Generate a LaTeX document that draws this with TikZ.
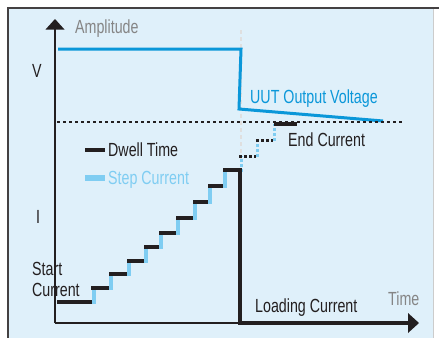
\documentclass[tikz,border=0pt]{standalone}
\usepackage{fontspec}
\setmainfont{Liberation Sans}[FakeStretch=0.75]
\definecolor{bgblue}{HTML}{DFF0FA}
\definecolor{vblue}{HTML}{0A97D9}
\definecolor{sblue}{HTML}{7FCDF2}
\definecolor{txt}{HTML}{231F20}
\definecolor{gtxt}{HTML}{858585}
\begin{document}
\begin{tikzpicture}[x=1pt,y=-1pt,
  lbl/.style={inner sep=0pt, anchor=base west, text=txt, font=\fontsize{19}{21}\selectfont},
  blk/.style={draw=txt, line width=3.2pt},
  stp/.style={draw=sblue, line width=4pt},
  blkdot/.style={draw=txt, line width=3pt, dash pattern=on 3pt off 2pt},
  stpdot/.style={draw=sblue, line width=3pt, dash pattern=on 3pt off 2pt},
  axis/.style={draw=txt, line width=1.3pt}]
\path[use as bounding box, fill=white] (0,0) rectangle (439,338);
\fill[bgblue] (8,8) rectangle (433,338);
\draw[gray!40, line width=0.6pt] (433,8) -- (433,338);
\draw[txt!85, line width=1.8pt] (439,8) -- (8,8) -- (8,338);

% gray dashed guide
\draw[gray!25, line width=1.3pt, dash pattern=on 4pt off 3pt] (241,30) -- (241,160);

% voltage
\draw[vblue, line width=3pt, line join=miter] (58,49) -- (241,49) -- (239,109) -- (383,121);

% end level dashed line
\draw[txt, line width=1.2pt, dash pattern=on 3pt off 3pt] (57,122) -- (403,122);

% axes
\draw[axis] (55,323) -- (55,29);
\fill[txt] (55,19) -- (45.5,29.5) -- (64.5,29.5) -- cycle;
\draw[axis] (55,323) -- (408,323);
\fill[txt] (419,323) -- (408,313) -- (408,333) -- cycle;

% blue risers
\foreach \x/\ylo/\yhi in {93.5/302/288, 110.5/288/274, 128.5/274/261, 145.5/261/247,
  161/247/233, 177.5/233/218, 194.5/218/202, 209.5/202/186, 224.5/186/170}
  \draw[stp] (\x,\ylo+1.5) -- (\x,\yhi);

% black steps
\draw[blk] (57,302) -- (92,302);
\draw[blk] (91,288) -- (109,288);
\draw[blk] (109,274) -- (127,274);
\draw[blk] (127,261) -- (144,261);
\draw[blk] (144,247) -- (159,247);
\draw[blk] (159,233) -- (176,233);
\draw[blk] (176,218) -- (193,218);
\draw[blk] (193,202) -- (208,202);
\draw[blk] (208,186) -- (223,186);
\draw[blk] (223,170) -- (240,170);

% dotted continuation
\draw[stpdot] (241.5,172) -- (241.5,156);
\draw[blkdot] (239,156) -- (256,156);
\draw[stpdot] (257.5,157) -- (257.5,140);
\draw[blkdot] (256,140) -- (273,140);
\draw[stpdot] (274.5,141) -- (274.5,124);
\draw[blk] (274,124) -- (297,124);

% loading current
\draw[txt, line width=3.2pt, line join=miter] (240,168.4) -- (240,323) -- (408,323);

% legend
\draw[txt, line width=4.5pt] (85,150) -- (105,150);
\draw[sblue, line width=5.5pt] (85,178) -- (105,178);

% labels
\node[lbl, text=gtxt] (amp) at (75,33) {Amplitude};
\node[lbl] (v) at (32,77) {V};
\node[lbl, text=vblue] (uut) at (250,103) {UUT Output Voltage};
\node[lbl] (endc) at (288,146) {End Current};
\node[lbl] (dwell) at (108,156) {Dwell Time};
\node[lbl, text=sblue] (stepc) at (108,184) {Step Current};
\node[lbl] (ilbl) at (36,223) {I};
\node[lbl] (start) at (32,275) {Start};
\node[lbl] (startc) at (32,296) {Current};
\node[lbl] (load) at (255,312) {Loading Current};
\node[lbl, text=gtxt] (time) at (388,305) {Time};
\end{tikzpicture}
\end{document}
